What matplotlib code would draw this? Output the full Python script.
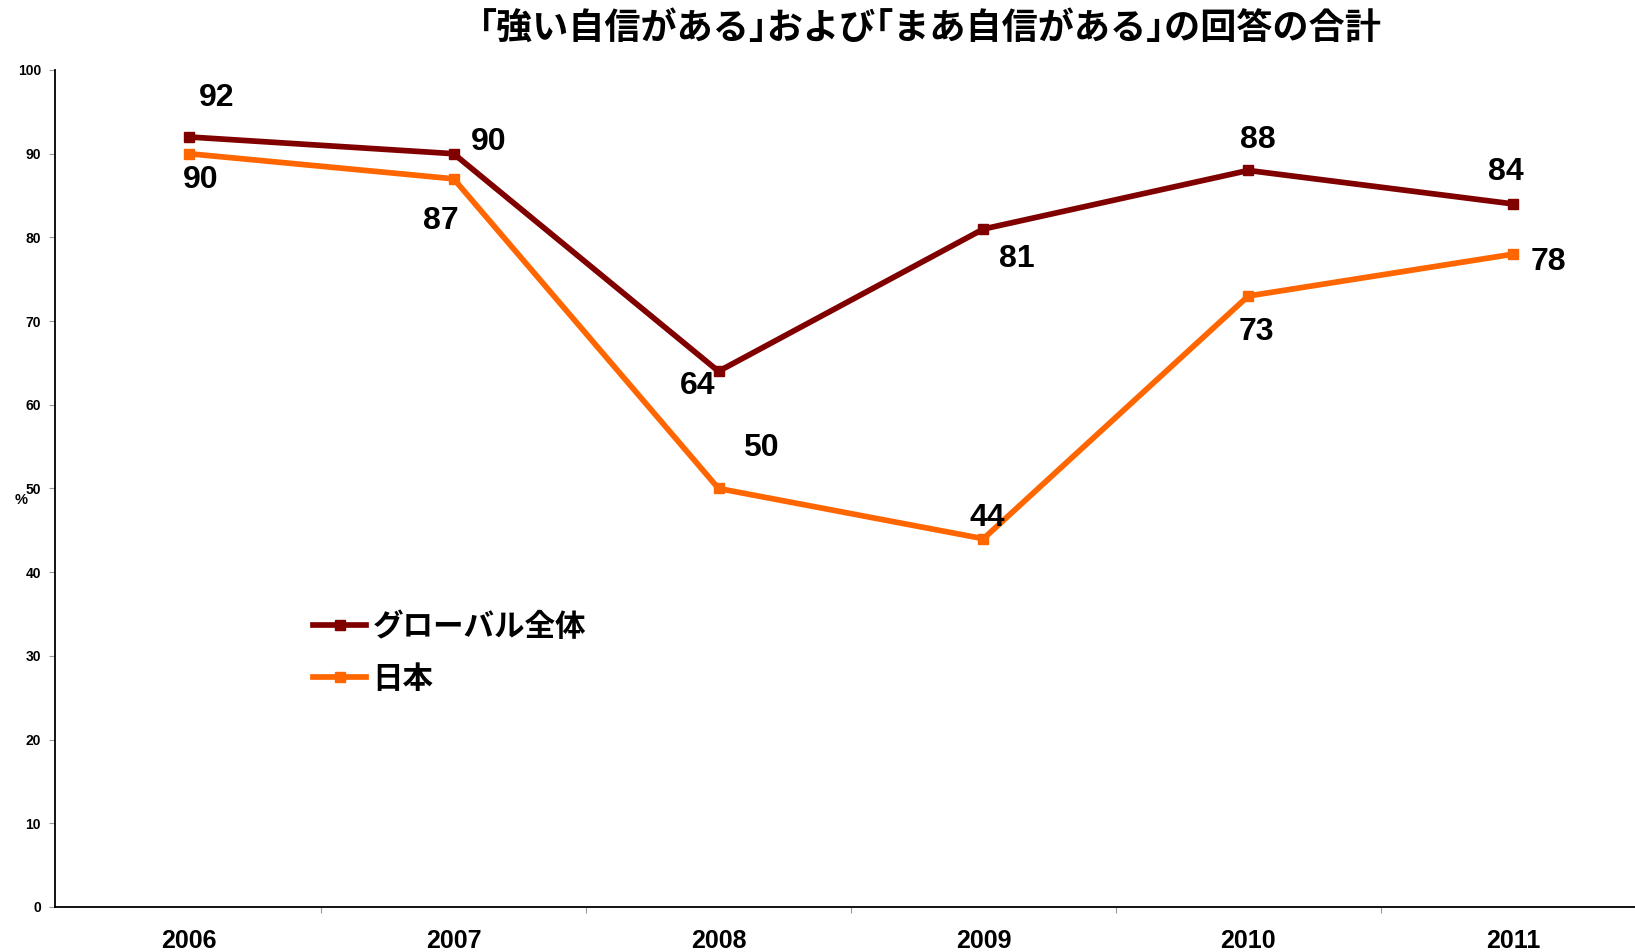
import matplotlib
matplotlib.use("Agg")
import matplotlib.pyplot as plt
from matplotlib.ticker import FixedLocator

plt.rcParams['font.family'] = ['Liberation Sans', 'Noto Sans CJK JP', 'DejaVu Sans']

years = ['2006', '2007', '2008', '2009', '2010', '2011']
global_vals = [92, 90, 64, 81, 88, 84]
japan_vals = [90, 87, 50, 44, 73, 78]
series_names = ['グローバル全体', '日本']
title = '｢強い自信がある｣および｢まあ自信がある｣の回答の合計'

# label offsets in pixels (dx, dy) with dy positive upward
g_off = [(28, 39), (35, 12), (-21, -15), (33, -30), (10, 30), (-7, 32)]
j_off = [(12, -26), (-13, -42), (42, 40), (4, 21), (8, -36), (35, -8)]

fig = plt.figure(figsize=(16.35, 9.52), dpi=100)
ax = fig.add_axes([55/1635, 1 - 907/952, 1 - 55/1635, (907 - 70)/952])

x = list(range(len(years)))
c_g = '#800000'
c_j = '#FF6600'
ax.plot(x, global_vals, color=c_g, lw=4.1, marker='s', ms=7.5, label=series_names[0], zorder=3)
ax.plot(x, japan_vals, color=c_j, lw=4.1, marker='s', ms=7.5, label=series_names[1], zorder=3)

for i, v in enumerate(global_vals):
    ax.annotate(str(v), (i, v), xytext=g_off[i], textcoords='offset pixels',
                ha='center', va='center', fontsize=23, fontweight='bold')
for i, v in enumerate(japan_vals):
    ax.annotate(str(v), (i, v), xytext=j_off[i], textcoords='offset pixels',
                ha='center', va='center', fontsize=23, fontweight='bold')

ax.set_xlim(-0.505, 5.46)
ax.set_ylim(0, 100)
ax.set_yticks(range(0, 101, 10))
ax.set_yticklabels([str(v) for v in range(0, 101, 10)], fontsize=10, fontweight='bold')
ax.set_xticks(x)
ax.set_xticklabels(years, fontsize=18, fontweight='bold')
ax.tick_params(axis='x', which='major', length=0, pad=16)
ax.xaxis.set_minor_locator(FixedLocator([0.5, 1.5, 2.5, 3.5, 4.5]))
ax.tick_params(axis='x', which='minor', length=4, color='#999999', width=0.8)
ax.tick_params(axis='y', length=4, color='#999999', width=0.8, pad=6)

for s in ['top', 'right']:
    ax.spines[s].set_visible(False)
ax.spines['left'].set_linewidth(1.3)
ax.spines['bottom'].set_linewidth(1.3)

ax.text(-0.0215, 0.486, '%', transform=ax.transAxes, fontsize=10.5, fontweight='bold',
        ha='center', va='center')

leg = ax.legend(loc='upper left', bbox_to_anchor=((313 - 55)/1580, (907 - 626 + 13)/837),
                frameon=False, borderaxespad=0, borderpad=0,
                prop={'size': 22, 'weight': 'bold'}, handlelength=1.75,
                handletextpad=0.2, labelspacing=0.72)

fig.text(930/1635, 1 - 29/952, title, ha='center', va='center', fontsize=26, fontweight='bold')

fig.savefig('out.png', dpi=100)
